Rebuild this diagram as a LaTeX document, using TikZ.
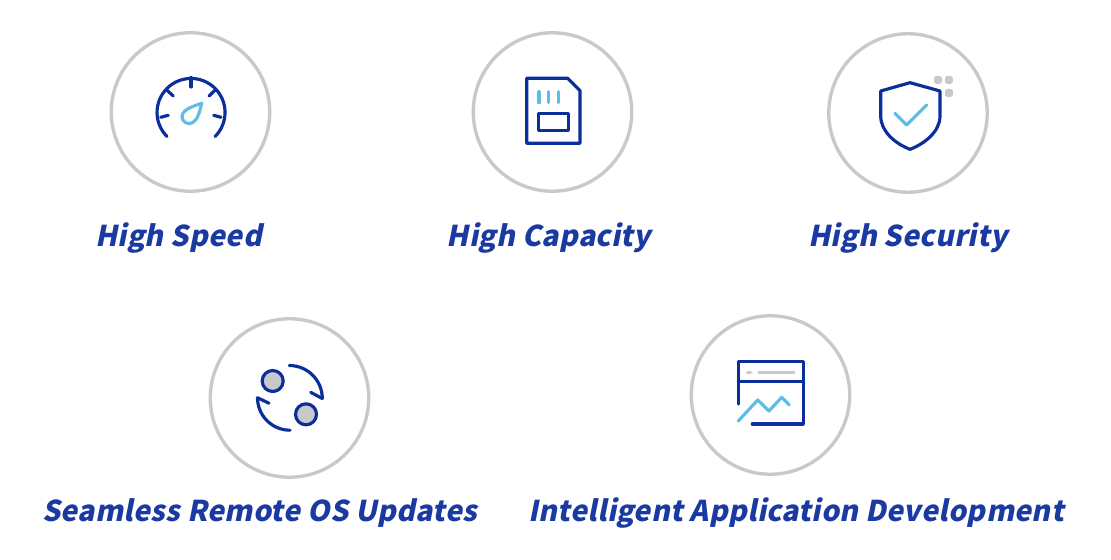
\documentclass[tikz,border=0pt]{standalone}
\usepackage{fontspec}
\setmainfont{Noto Sans}
\newfontfamily\titlefont[FakeSlant=0.2,LetterSpace=1]{Noto Sans CJK SC}
\definecolor{navy}{HTML}{0A2E9C}
\definecolor{sky}{HTML}{5FBCE4}
\definecolor{ring}{HTML}{C9C9C9}
\definecolor{caption}{HTML}{1A3AA2}
\begin{document}
\begin{tikzpicture}[x=0.02cm,y=-0.02cm]
  % Define styles
  \tikzstyle{ringnode} = [circle, draw=ring, line width=1.9pt, minimum size=3.17cm, inner sep=0pt]
  \tikzstyle{title} = [anchor=base, text=caption, font=\titlefont\fontsize{16.3pt}{20pt}\selectfont\bfseries]
  \tikzstyle{dark} = [draw=navy, line width=1.8pt, line cap=round, line join=round]
  \tikzstyle{light} = [draw=sky, line width=1.8pt, line cap=round, line join=round]
  \tikzstyle{soft} = [draw=ring, line width=1.8pt, line cap=round]
  \useasboundingbox (0,0) rectangle (1111,560);

  % Rings
  \node[ringnode] (speed) at (190.5,112) {};
  \node[ringnode] (capacity) at (552.5,112) {};
  \node[ringnode] (security) at (908,113) {};
  \node[ringnode] (updates) at (289.5,398) {};
  \node[ringnode] (develop) at (770.5,395) {};

  % Titles
  \node[title] (speedtext) at (178.5,247) {High Speed};
  \node[title] (capacitytext) at (549,247) {High Capacity};
  \node[title] (securitytext) at (908,247) {High Security};
  \node[title] (updatestext) at (259.5,521) {Seamless Remote OS Updates};
  \node[title] (developtext) at (796,521) {Intelligent Application Development};

  % Gauge
  \draw[dark] (167,136.5) arc[start angle=135, end angle=405, radius=34];
  \foreach \a/\b/\c/\d in {191/77.5/191/87, 166.7/90/173.3/96, 160.7/117.3/168.3/115.3, 221/117.3/213.7/115.3, 215.3/90/209/96}
    \draw[dark] (\a,\b) -- (\c,\d);
  \draw[light] (201.7,103.3) .. controls (196,105.5) and (183,108.5) .. (182,116)
    .. controls (181.5,122) and (188,125.5) .. (193,122.5) .. controls (198,119.5) and (200,110) .. cycle;

  % Memory card
  \draw[dark] (526.7,78.3) -- (567.7,78.3) -- (580,90.7) -- (580,143.3) -- (526.7,143.3) -- cycle;
  \draw[dark] (538.3,113.3) rectangle (568.3,130.7);
  \foreach \a in {539,548.7,558.3}
    \draw[light] (\a,91.7) -- (\a,102.7);

  % Shield
  \draw[dark] (910,82.7) -- (940,91) -- (940,116) .. controls (940,132) and (924,144) .. (910,149.3)
    .. controls (896,144) and (880.7,132) .. (880.7,116) -- (880.7,91) -- cycle;
  \draw[light] (895,113.3) -- (906.7,125) -- (926.7,105);
  \foreach \a/\b in {934/76, 945/76, 945/89}
    \fill[ring, rounded corners=1.2pt] (\a,\b) rectangle ++(7.8,7.8);

  % Update cycle
  \draw[dark, fill=ring] (272.7,381) circle (10.5);
  \draw[dark, fill=ring] (306,414.3) circle (10.5);
  \draw[dark] (289.3,365.5) arc[start angle=-90, end angle=0, radius=33] -- (310.7,392.3);
  \draw[dark] (290,430.2) arc[start angle=90, end angle=180, radius=32.5] -- (269,403.3);

  % Window
  \draw[dark] (738.3,404) -- (738.3,361.7) -- (803.3,361.7) -- (803.3,424) -- (752.3,424);
  \draw[dark] (738.3,381.7) -- (803.3,381.7);
  \draw[soft] (747.5,372.3) -- (750.7,372.3);
  \draw[soft] (759,372.3) -- (794,372.3);
  \draw[light] (738.3,421) -- (757.7,400) -- (769,411) -- (781.7,397.3) -- (789.3,405);
\end{tikzpicture}
\end{document}
